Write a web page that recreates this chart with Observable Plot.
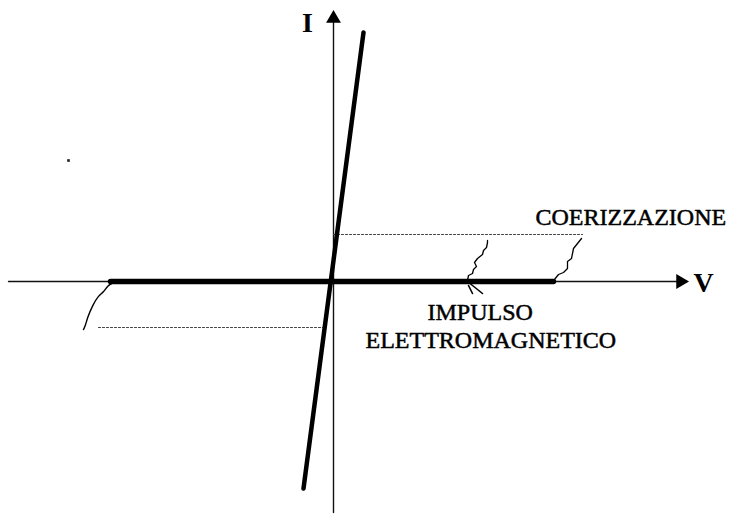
<!DOCTYPE html>
<html>
<head>
<meta charset="utf-8">
<script src="https://cdn.jsdelivr.net/npm/d3@7"></script>
<script src="https://cdn.jsdelivr.net/npm/@observablehq/plot@0.6"></script>
<style>
  html, body { margin: 0; padding: 0; background: #fff; }
  #chart svg { display: block; }
</style>
</head>
<body>
<div id="chart"></div>
<script>
// Coordinates in chart units, origin at the crossing of the V and I axes
const vAxis = [{x: -325, y: 0}, {x: 348, y: 0}];
const iAxis = [{x: 0, y: -231}, {x: 0, y: 264}];
const arrowHeads = [
  {x: 0, y: 263, rot: 0},
  {x: 347, y: 0, rot: 90}
];
const characteristic = [{x: -30, y: -207}, {x: 30, y: 249}];
const thickV = [{x: -223, y: 0}, {x: 220, y: 0}];
const dottedUpper = [{x: 0, y: 47}, {x: 249, y: 47}];
const dottedLower = [{x: -235, y: -46}, {x: -10, y: -46}];
const squiggleRight = [
  [221, 2], [225, 7], [230, 9], [234, 13], [234, 20], [238, 23],
  [239, 28], [240, 33], [244, 38], [248, 43]
];
const squiggleMid = [
  [134, 1], [135, 6], [139, 8], [140, 12], [143, 15], [141, 19],
  [144, 23], [149, 27], [150, 31], [153, 34], [154, 39], [154, 41]
];
const hookA = [[134, 0], [149, -12]];
const hookB = [[135, -4], [139, -12]];
const curveLeft = [
  [-220, -1], [-226, -4], [-230, -11], [-235, -14], [-241, -24],
  [-246, -36], [-248, -44], [-250, -48]
];
const axisLabels = [
  {x: -26, y: 258, text: "I"},
  {x: 370, y: -2, text: "V"}
];
const noteLabels = [
  {x: 202, y: 64, text: "COERIZZAZIONE"},
  {x: 94, y: -31, text: "IMPULSO"},
  {x: 32, y: -59, text: "ELETTROMAGNETICO"}
];
const specks = [{x: -265, y: 121}];

const toPts = a => a.map(([x, y]) => ({x, y}));
const serif = "Liberation Serif, Times New Roman, serif";

const chart = Plot.plot({
  width: 731,
  height: 528,
  margin: 0,
  x: {domain: [-333, 398], axis: null},
  y: {domain: [-247, 281], axis: null},
  style: {background: "#fff"},
  marks: [
    Plot.line(vAxis, {x: "x", y: "y", stroke: "#111", strokeWidth: 1.4}),
    Plot.line(iAxis, {x: "x", y: "y", stroke: "#111", strokeWidth: 1.4}),
    Plot.dot(arrowHeads, {x: "x", y: "y", symbol: "triangle", r: 5.5, fill: "#000", stroke: "none", rotate: "rot"}),
    Plot.line(dottedUpper, {x: "x", y: "y", stroke: "#444", strokeWidth: 1.2, strokeDasharray: "2,2"}),
    Plot.line(dottedLower, {x: "x", y: "y", stroke: "#444", strokeWidth: 1.2, strokeDasharray: "2,2"}),
    Plot.line(thickV, {x: "x", y: "y", stroke: "#000", strokeWidth: 5.5}),
    Plot.line(characteristic, {x: "x", y: "y", stroke: "#000", strokeWidth: 4.5}),
    Plot.line(toPts(squiggleRight), {x: "x", y: "y", stroke: "#000", strokeWidth: 1.3}),
    Plot.line(toPts(squiggleMid), {x: "x", y: "y", stroke: "#000", strokeWidth: 1.3}),
    Plot.line(toPts(hookA), {x: "x", y: "y", stroke: "#000", strokeWidth: 1.6}),
    Plot.line(toPts(hookB), {x: "x", y: "y", stroke: "#000", strokeWidth: 1.6}),
    Plot.line(toPts(curveLeft), {x: "x", y: "y", stroke: "#000", strokeWidth: 1.4, curve: "basis"}),
    Plot.dot(specks, {x: "x", y: "y", symbol: "square", r: 1.5, fill: "#222"}),
    Plot.text(axisLabels, {
      x: "x", y: "y", text: "text",
      textAnchor: "middle", fontSize: 28, fontWeight: "bold",
      fontFamily: serif, fill: "#000", lineAnchor: "middle"
    }),
    Plot.text(noteLabels, {
      x: "x", y: "y", text: "text",
      textAnchor: "start", fontSize: 24, fontWeight: "normal",
      fontFamily: serif, fill: "#000", stroke: "#000", strokeWidth: 0.5,
      lineAnchor: "middle"
    })
  ]
});
document.getElementById("chart").appendChild(chart);
</script>
</body>
</html>
